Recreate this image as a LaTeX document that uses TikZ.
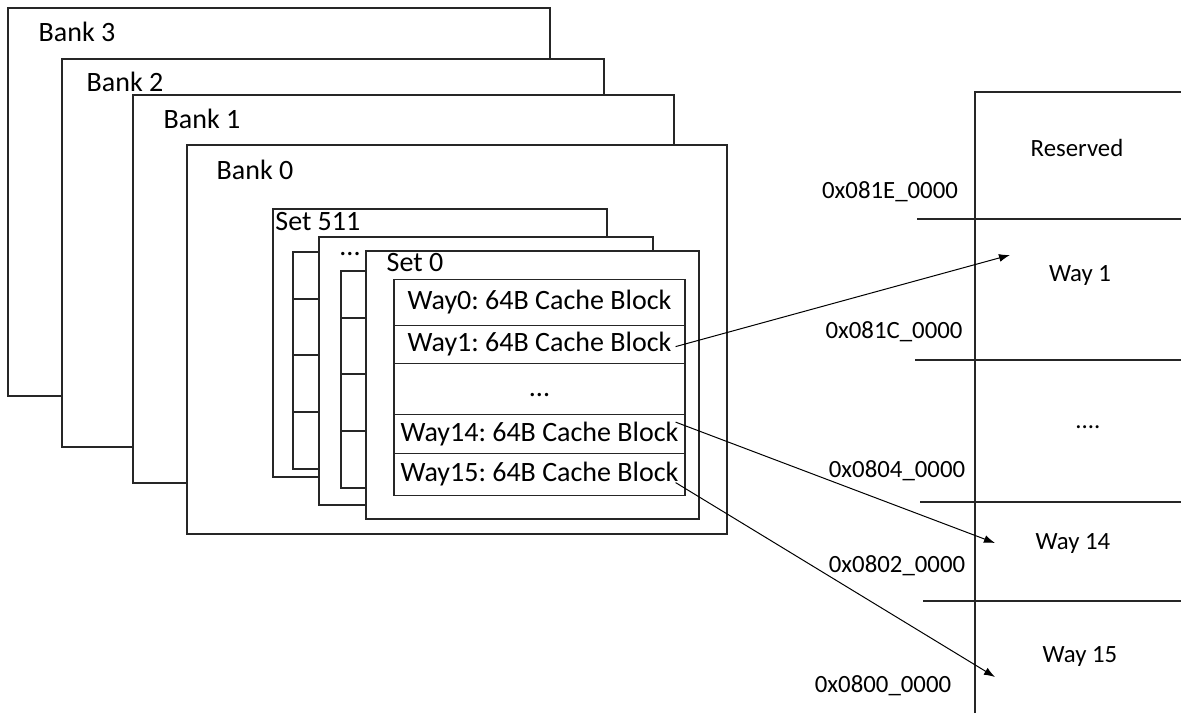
\documentclass[tikz,border=0pt]{standalone}
\usepackage{fontspec}
\setmainfont{Carlito}
\usetikzlibrary{arrows.meta}
\frenchspacing

\newcommand{\threedots}{...}

\begin{document}
\begin{tikzpicture}[x=0.5pt,y=-0.5pt]

\tikzset{
        every node/.style={inner sep=0pt},
        box/.style={draw=black!85,line width=0.6pt,fill=white},
        rule/.style={draw=black!85,line width=0.6pt},
        lbl/.style={font=\fontsize{14}{16}\selectfont},
        mem/.style={font=\fontsize{12.4}{15}\selectfont},
        way/.style={rule,lbl,minimum width=145.5pt,anchor=north,text height=9.5pt,text depth=2.5pt},
        link/.style={->,>={Latex[length=5.5pt,width=4pt]},draw=black,line width=0.5pt}
}

\useasboundingbox (0,0) rectangle (1181,713);

% banks, back to front
\foreach \i/\l/\t/\r/\b/\tx/\ty in {3/8/8/550/396/77/32,2/62/59/604/447/125/82,1/133/95/674/483/202/119,0/187/145/727/534/255/170} {
     \draw[box] (\l,\t) rectangle (\r,\b);
     \node[lbl] (bank\i) at (\tx,\ty) {Bank \i};
}

% sets
\draw[box] (273,209) rectangle (607,477);
\node[lbl,anchor=west] (set511) at (275,222) {Set 511};
\draw[rule] (293,252) rectangle (330,469);
\foreach \y in {299,355,412} \draw[rule] (293,\y) -- (330,\y);

\draw[box] (319,237) rectangle (653,505);
\node[lbl] (setdots) at (350,254) {\threedots};
\draw[rule] (341,271) rectangle (380,488);
\foreach \y in {318,374,431} \draw[rule] (341,\y) -- (380,\y);

\draw[box] (366,251) rectangle (699,519);
\node[lbl] (set0) at (415,263) {Set 0};

\foreach \n/\t/\h/\s in {w0/279/46/Way0: 64B Cache Block,w1/325/38/Way1: 64B Cache Block,wd/363/51/\threedots,w14/414/39/Way14: 64B Cache Block,w15/453/42/Way15: 64B Cache Block} {
     \node[way,minimum height=\h*0.5pt] (\n) at (539.5,\t) {\s};
}

% memory map
\draw[rule] (975,713) -- (975,92) -- (1181,92);
\foreach \y/\x in {219/917,360/915,502/920,601/923} \draw[rule] (\x,\y) -- (1181,\y);

\node[mem] (resv) at (1077,148) {Reserved};
\node[mem] (m1) at (1080,276) {Way 1};
\node[mem] (mdots) at (1088,427) {....};
\node[mem] (m14) at (1073,544) {Way 14};
\node[mem] (m15) at (1080,657) {Way 15};

\node[mem] (a1) at (890,192) {0x081E\_0000};
\node[mem] (a2) at (894,332) {0x081C\_0000};
\node[mem] (a3) at (897,471) {0x0804\_0000};
\node[mem] (a4) at (897,566) {0x0802\_0000};
\node[mem] (a5) at (883,686) {0x0800\_0000};

\coordinate (m1 in) at (1010,255);
\coordinate (m14 in) at (995,543);
\coordinate (m15 in) at (995,677);

\draw[link] ([xshift=-5pt,yshift=-1pt]w1.east) -- (m1 in);
\draw[link] ([xshift=-5pt,yshift=6pt]w14.east) -- (m14 in);
\draw[link] ([xshift=-5pt,yshift=-4pt]w15.east) -- (m15 in);

\end{tikzpicture}
\end{document}
